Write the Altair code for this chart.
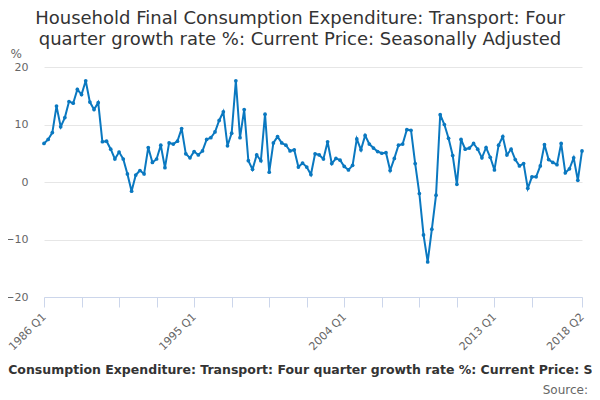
import altair as alt
import pandas as pd

title_lines = ["Household Final Consumption Expenditure: Transport: Four",
               "quarter growth rate %: Current Price: Seasonally Adjusted"]
bottom_text = "Household Final Consumption Expenditure: Transport: Four quarter growth rate %: Current Price: Seasonally Adjusted"
source_text = ["Source:"]
unit_label = "%"

years = list(range(1986, 2019))
quarters = [f"{y} Q{q}" for y in years for q in range(1, 5)][:130]

values = [
    6.7, 7.4, 8.6, 13.2,
    9.6, 11.2, 14.0, 13.7,
    16.1, 15.2, 17.6, 13.9,
    12.6, 13.8, 7.0, 7.1,
    5.7, 4.0, 5.2, 4.0,
    1.4, -1.6, 1.2, 2.0,
    1.4, 6.0, 3.4, 4.0,
    6.4, 2.5, 6.8, 6.6,
    7.1, 9.3, 4.9, 4.2,
    5.3, 4.7, 5.4, 7.4,
    7.7, 8.7, 10.7, 12.2,
    6.3, 8.5, 17.6, 7.7,
    12.6, 3.7, 2.2, 4.7,
    3.7, 11.8, 1.7, 6.8,
    7.9, 6.8, 6.4, 5.4,
    5.6, 2.6, 3.3, 2.6,
    1.3, 4.9, 4.7, 4.0,
    7.0, 3.2, 4.1, 3.8,
    2.7, 2.1, 2.9, 7.5,
    5.6, 8.1, 6.6, 5.9,
    5.3, 5.0, 5.1, 2.0,
    4.1, 6.4, 6.6, 9.1,
    9.0, 3.2, -2.0, -9.2,
    -13.9, -8.2, -2.3, 11.7,
    10.0, 7.6, 4.6, -0.4,
    7.4, 5.7, 5.9, 6.7,
    5.7, 4.2, 6.0, 4.3,
    2.1, 6.4, 7.9, 4.7,
    5.7, 3.9, 2.8, 3.2,
    -1.1, 0.9, 0.9, 2.8,
    6.5, 3.9, 3.4, 3.0,
    6.7, 1.6, 2.3, 4.2,
    0.3, 5.4,
]

tick_quarters = quarters[0:118:9] + [quarters[-1]]
labelled_quarters = ["1986 Q1", "1995 Q1", "2004 Q1", "2013 Q1", "2018 Q2"]
y_ticks = [-20, -10, 0, 10, 20]

df = pd.DataFrame({"quarter": quarters, "value": values})

FONT = "DejaVu Sans"
LINE = "#0a78c0"

label_expr = "indexof(" + str(labelled_quarters) + ", datum.value) >= 0 ? datum.value : ''"

line = alt.Chart(df).mark_line(
    color=LINE, strokeWidth=2,
    point=alt.OverlayMarkDef(color=LINE, filled=True, size=14),
).encode(
    x=alt.X("quarter:O", sort=None,
            scale=alt.Scale(type="point", padding=0),
            axis=alt.Axis(values=tick_quarters, labelExpr=label_expr,
                          labelAngle=315, labelAlign="right", labelBaseline="middle",
                          labelFont=FONT, labelFontSize=11, labelColor="#666666",
                          labelPadding=8, labelOverlap=False,
                          domainColor="#ccd6eb", tickColor="#ccd6eb", tickSize=10,
                          grid=False,
                          title=bottom_text, titleFont=FONT, titleFontSize=12.5,
                          titleFontWeight="bold", titleColor="#333333",
                          titleX=264, titleY=76, titleAlign="center",
                          titleBaseline="alphabetic", titleAnchor="start")),
    y=alt.Y("value:Q",
            scale=alt.Scale(domain=[-20, 20], nice=False, zero=False),
            axis=alt.Axis(values=y_ticks, grid=True, gridColor="#e6e6e6",
                          domain=False, ticks=False, labelPadding=16,
                          labelFont=FONT, labelFontSize=11, labelColor="#666666",
                          title=unit_label, titleAngle=0, titleX=-34, titleY=-10,
                          titleAlign="left", titleBaseline="alphabetic",
                          titleFont=FONT, titleFontSize=12, titleFontWeight="normal",
                          titleColor="#666666")),
)

src = alt.Chart(pd.DataFrame({"t": source_text})).mark_text(
    align="right", baseline="alphabetic", font=FONT, fontSize=12, color="#666666"
).encode(text="t:N", x=alt.value(544), y=alt.value(327))

chart = alt.layer(line, src).properties(
    width=538, height=230,
    autosize=alt.AutoSizeParams(type="none"),
    padding={"left": 36, "top": 59, "right": 10, "bottom": 100},
    title=alt.TitleParams(title_lines, font=FONT, fontSize=18, fontWeight="normal",
                          color="#333333", anchor="middle", dx=-13, dy=24, offset=22,
                          lineHeight=21),
).configure_view(strokeWidth=0)

chart.save("out.html", embed_options={"renderer": "svg", "actions": False})
